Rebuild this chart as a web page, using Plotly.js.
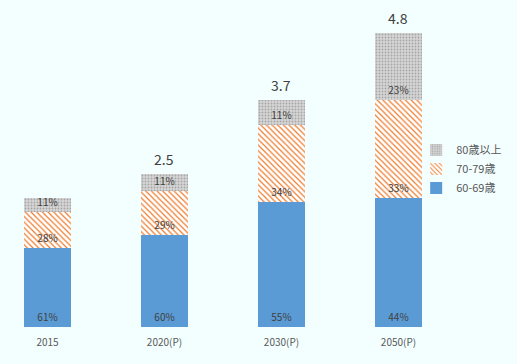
<!DOCTYPE html>
<html><head><meta charset="utf-8">
<script src="https://cdn.plot.ly/plotly-3.0.1.min.js"></script>
<style>html,body{margin:0;padding:0;background:#F3FFFF;}#chart{width:517px;height:364px;}</style>
</head><body><div id="chart"></div>
<script>
var categories = ['2015', '2020(P)', '2030(P)', '2050(P)'];
var totals = [2.1, 2.5, 3.7, 4.8];
var share6069 = [61, 60, 55, 44];
var share7079 = [28, 29, 34, 33];
var share80 = [11, 11, 11, 23];
var seriesNames = ['60-69歳', '70-79歳', '80歳以上'];

function seg(shares){ return shares.map(function(s,i){ return totals[i]*s/100; }); }
function pct(shares){ return shares.map(function(s){ return s + '%'; }); }

var font = "'Noto Sans CJK JP', 'Noto Sans', sans-serif";
var common = {type:'bar', x:categories, width:0.4, textposition:'inside', insidetextanchor:'start',
  textfont:{size:10, color:'#404040', family:font}, hoverinfo:'skip'};

var t1 = Object.assign({}, common, {name:seriesNames[0], y:seg(share6069), text:pct(share6069),
  marker:{color:'#5B9BD5', line:{width:0}}});
var t2 = Object.assign({}, common, {name:seriesNames[1], y:seg(share7079), text:pct(share7079),
  marker:{color:'#FFFFFF', line:{width:0}, pattern:{shape:'\\', fgcolor:'#ED7D31', bgcolor:'#FFFFFF', size:4, solidity:0.3, fillmode:'replace'}}});
var t3 = Object.assign({}, common, {name:seriesNames[2], y:seg(share80), text:pct(share80),
  marker:{color:'#D0D0D0', line:{width:0}, pattern:{shape:'.', fgcolor:'#A6A6A6', bgcolor:'#D6D6D6', size:3, solidity:0.3, fillmode:'replace'}}});

var annotations = categories.map(function(c,i){
  return {x:c, y:totals[i], text:totals[i].toFixed(1), showarrow:false, yanchor:'bottom', yshift:3,
    font:{size:14, color:'#404040', family:font}};
});

var layout = {
  width:517, height:364,
  paper_bgcolor:'#F3FFFF', plot_bgcolor:'#F3FFFF',
  margin:{l:0, r:77, t:0, b:37, autoexpand:false},
  barmode:'stack',
  showlegend:true,
  legend:{xref:'container', x:0.805, xanchor:'left', y:0.483, yanchor:'middle', traceorder:'reversed',
    font:{size:11, color:'#595959', family:font}, bgcolor:'rgba(0,0,0,0)', itemwidth:30},
  xaxis:{type:'category', range:[-0.406, 3.355], showgrid:false, zeroline:false, showline:false,
    ticks:'', ticklabelstandoff:8, tickfont:{size:10, color:'#595959', family:font}},
  yaxis:{range:[0, 5.334], visible:false, fixedrange:true},
  uniformtext:{minsize:10, mode:'show'},
  annotations:annotations,
  font:{family:font}
};
Plotly.newPlot('chart', [t1, t2, t3], layout, {staticPlot:true, displayModeBar:false});
</script></body></html>
